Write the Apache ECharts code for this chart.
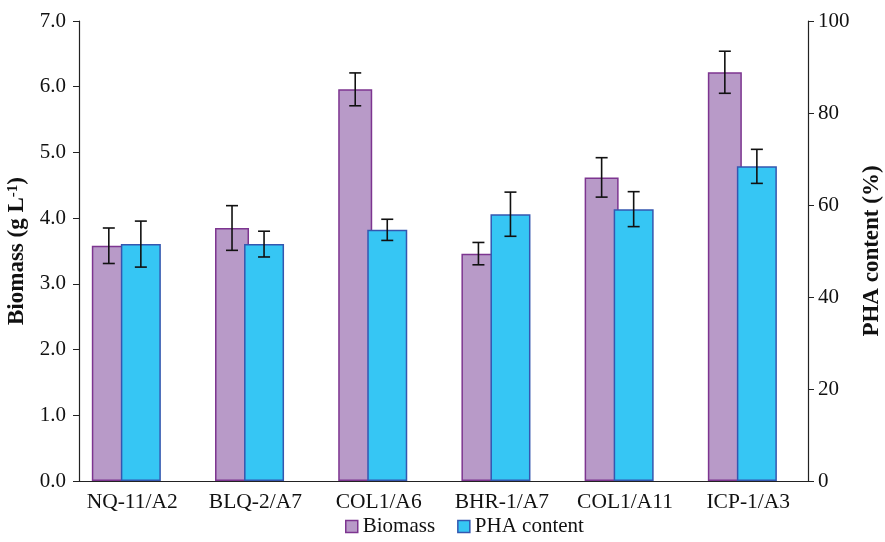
<!DOCTYPE html>
<html>
<head>
<meta charset="utf-8">
<script src="https://cdn.jsdelivr.net/npm/echarts@6/dist/echarts.min.js"></script>
<style>
  html, body { margin: 0; padding: 0; background: #fff; }
  #chart { width: 885px; height: 542px; }
</style>
</head>
<body>
<div id="chart"></div>
<script>
// Strains and measured values
const strains = ['NQ-11/A2', 'BLQ-2/A7', 'COL1/A6', 'BHR-1/A7', 'COL1/A11', 'ICP-1/A3'];
const biomass = [3.58, 3.85, 5.96, 3.46, 4.62, 6.22];          // g L-1
const biomassErr = [0.27, 0.34, 0.25, 0.17, 0.30, 0.32];
const phaContent = [51.5, 51.5, 54.6, 58.0, 59.1, 68.4];       // %
const phaErr = [5.0, 2.8, 2.3, 4.8, 3.8, 3.7];
const leftTicks = [0, 1, 2, 3, 4, 5, 6, 7];
const rightTicks = [0, 20, 40, 60, 80, 100];

// Layout of the bar pair inside each category slot (in category units)
const X_MIN = -0.432, X_MAX = 5.485;
const BIO_SHIFT = -0.19, PHA_SHIFT = 0.07;

const FONT = 'Liberation Serif';
const PURPLE = '#b89ac8', PURPLE_EDGE = '#7d3590';
const CYAN = '#36c6f4', CYAN_EDGE = '#3457b0';

const bioData = biomass.map((v, i) => [i + BIO_SHIFT, v]);
const phaData = phaContent.map((v, i) => [i + PHA_SHIFT, v]);
const bioErrData = biomass.map((v, i) => [i + BIO_SHIFT, v, biomassErr[i]]);
const phaErrData = phaContent.map((v, i) => [i + PHA_SHIFT, v, phaErr[i]]);

function errorBar(params, api) {
  const x = api.value(0), v = api.value(1), e = api.value(2);
  const top = api.coord([x, v + e]);
  const bot = api.coord([x, v - e]);
  const half = 6;
  const style = { stroke: '#111', lineWidth: 1.6 };
  return {
    type: 'group',
    children: [
      { type: 'line', shape: { x1: top[0], y1: top[1], x2: bot[0], y2: bot[1] }, style },
      { type: 'line', shape: { x1: top[0] - half, y1: top[1], x2: top[0] + half, y2: top[1] }, style },
      { type: 'line', shape: { x1: bot[0] - half, y1: bot[1], x2: bot[0] + half, y2: bot[1] }, style }
    ]
  };
}

const axisLine = { show: true, onZero: false, lineStyle: { color: '#222', width: 1.2 } };

const chart = echarts.init(document.getElementById('chart'));
chart.setOption({
  animation: false,
  textStyle: { fontFamily: FONT },
  grid: { left: 79, right: 77, top: 21, bottom: 61, containLabel: false, outerBoundsMode: 'none' },
  legend: {
    data: [
      { name: 'Biomass', icon: 'rect', itemStyle: { color: PURPLE, borderColor: PURPLE_EDGE, borderWidth: 1.5 } },
      { name: 'PHA content', icon: 'rect', itemStyle: { color: CYAN, borderColor: CYAN_EDGE, borderWidth: 1.5 } }
    ],
    bottom: 0,
    left: 340,
    itemWidth: 12,
    itemHeight: 12,
    itemGap: 22,
    textStyle: { fontFamily: FONT, fontSize: 21, color: '#111' }
  },
  xAxis: [
    {
      type: 'value', min: X_MIN, max: X_MAX,
      axisLine: axisLine,
      axisTick: { show: false },
      splitLine: { show: false },
      axisLabel: {
        customValues: strains.map((s, i) => i),
        formatter: v => strains[Math.round(v)] || '',
        fontFamily: FONT, fontSize: 21.5, color: '#111', margin: 10
      }
    },
    {
      type: 'value', min: X_MIN, max: X_MAX, show: false
    }
  ],
  yAxis: [
    {
      type: 'value', min: 0, max: 7, interval: 1,
      name: '{t|Biomass (g L}{s|-1}{t|)}',
      nameLocation: 'middle', nameGap: 46,
      nameTextStyle: {
        rich: {
          t: { fontFamily: FONT, fontSize: 23, fontWeight: 'bold', color: '#111' },
          s: { fontFamily: FONT, fontSize: 15, fontWeight: 'bold', color: '#111', verticalAlign: 'top', padding: [0, 0, 8, 0] }
        }
      },
      axisLine: axisLine,
      axisTick: { show: true, inside: false, length: 6, lineStyle: { color: '#222' }, customValues: leftTicks },
      splitLine: { show: false },
      axisLabel: {
        customValues: leftTicks,
        formatter: v => v.toFixed(1),
        fontFamily: FONT, fontSize: 21, color: '#111', margin: 13
      }
    },
    {
      type: 'value', min: 0, max: 100, interval: 20,
      position: 'right',
      name: 'PHA content (%)',
      nameLocation: 'middle', nameGap: 50,
      nameTextStyle: { fontFamily: FONT, fontSize: 23, fontWeight: 'bold', color: '#111' },
      axisLine: axisLine,
      axisTick: { show: true, inside: false, length: 6, lineStyle: { color: '#222' }, customValues: rightTicks },
      splitLine: { show: false },
      axisLabel: {
        customValues: rightTicks,
        fontFamily: FONT, fontSize: 21, color: '#111', margin: 10
      }
    }
  ],
  series: [
    {
      name: 'Biomass', type: 'bar', xAxisIndex: 0, yAxisIndex: 0, barWidth: 34,
      itemStyle: { color: PURPLE, borderColor: PURPLE_EDGE, borderWidth: 1.5 },
      data: bioData
    },
    {
      name: 'PHA content', type: 'bar', xAxisIndex: 1, yAxisIndex: 1, barWidth: 40,
      itemStyle: { color: CYAN, borderColor: CYAN_EDGE, borderWidth: 1.5 },
      data: phaData
    },
    {
      name: 'Biomass error', type: 'custom', xAxisIndex: 0, yAxisIndex: 0, z: 5,
      renderItem: errorBar, encode: { x: 0, y: 1 }, data: bioErrData
    },
    {
      name: 'PHA error', type: 'custom', xAxisIndex: 0, yAxisIndex: 1, z: 5,
      renderItem: errorBar, encode: { x: 0, y: 1 }, data: phaErrData
    }
  ]
});
</script>
</body>
</html>
